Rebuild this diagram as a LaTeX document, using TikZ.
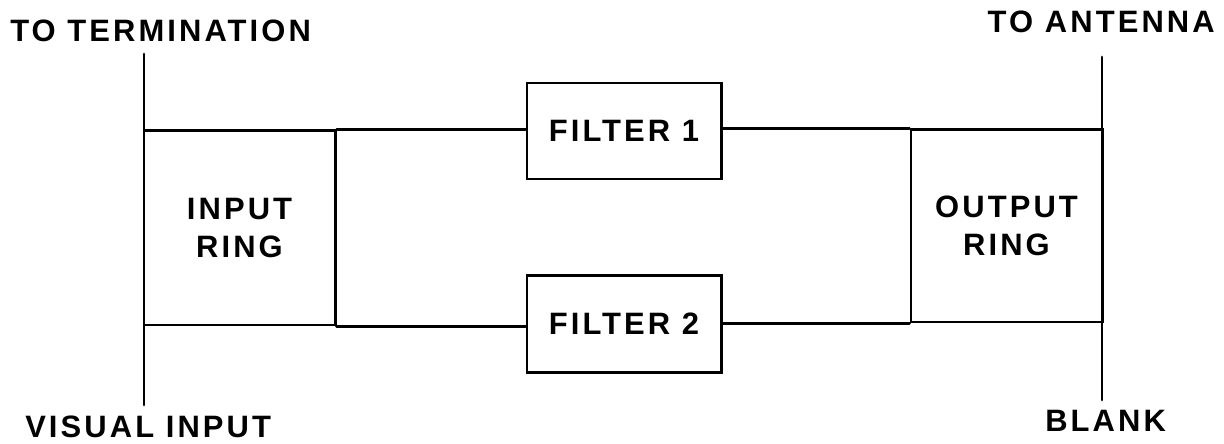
\documentclass[tikz,border=0pt]{standalone}
\usepackage{fontspec}
\setmainfont{Liberation Sans}[LetterSpace=10]
\begin{document}
\begin{tikzpicture}[x=0.025cm,y=-0.025cm,
  wire/.style={line width=2.1pt, line cap=round},
  blockbox/.style={draw, line width=2.1pt, inner sep=0pt, align=center, font=\fontsize{22}{27}\selectfont\bfseries},
  lbl/.style={inner sep=0pt, font=\fontsize{22}{27}\selectfont\bfseries}]
\path[fill=white] (0,0) rectangle (1224,444);
% blocks
\node[blockbox, minimum width=4.775cm, minimum height=4.85cm] (inring) at (239.5,228) {INPUT\\RING};
\node[blockbox, minimum width=4.775cm, minimum height=4.8cm] (outring) at (1006.5,226) {OUTPUT\\RING};
\node[blockbox, minimum width=4.85cm, minimum height=2.4cm] (f1) at (624,131) {FILTER 1};
\node[blockbox, minimum width=4.85cm, minimum height=2.425cm] (f2) at (624,324) {FILTER 2};
% line ends
\coordinate (tl) at (144,54);
\coordinate (bl) at (144,405);
\coordinate (tr) at (1102,57);
\coordinate (br) at (1102,400);
% connectors
\draw[wire] (tl) -- (bl);
\draw[wire] (tr) -- (br);
\draw[wire] (inring.north east) -- (inring.north east -| f1.west);
\draw[wire] (inring.south east) -- (inring.south east -| f2.west);
\draw[wire] (f1.east |- outring.north) -- (outring.north west);
\draw[wire] (f2.east |- outring.south) -- (outring.south west);
% labels
\node[lbl, anchor=base west] (lterm) at (10,42) {TO TERMINATION};
\node[lbl, anchor=base east] (lant) at (1215,33) {TO ANTENNA};
\node[lbl, anchor=base west] (lvis) at (25,438) {VISUAL INPUT};
\node[lbl, anchor=base west] (lblank) at (1045,432) {BLANK};
\end{tikzpicture}
\end{document}
